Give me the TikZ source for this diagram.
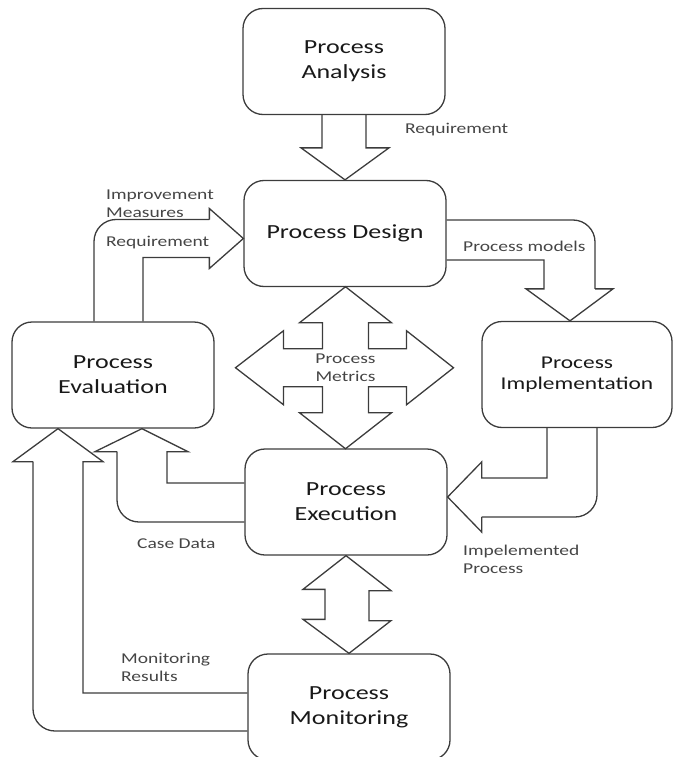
\documentclass[tikz,border=0pt]{standalone}
\usepackage{fontspec}
\setmainfont{Carlito}[FakeStretch=1.3]
\usetikzlibrary{calc}
\definecolor{linegray}{HTML}{3C3C3C}
\definecolor{txtgray}{HTML}{454545}

\begin{document}
\begin{tikzpicture}[x=1pt,y=-1pt,
  every node/.style={align=center},
  box/.style={draw=linegray,line width=1.3pt,rounded corners=20pt,minimum width=202pt,minimum height=106pt,inner sep=0pt,font=\fontsize{20}{25}\selectfont,text=black!90},
  blk/.style={draw=linegray,line width=1.3pt},
  bentarrow/.style={blk,rounded corners=22pt},
  lbl/.style={font=\fontsize{15}{18}\selectfont,text=txtgray,align=left,inner sep=0pt}]
\useasboundingbox (0,0) rectangle (674,757);
\node[box] (ana) at (344,61.5) {Process\\Analysis};
\node[box] (des) at (345,233.5) {Process Design};
\node[box] (eva) at (113,375) {Process\\Evaluation};
\node[box,minimum width=190pt,font=\fontsize{18}{21}\selectfont] (imp) at (577,374.5) {Process\\Implementation};
\node[box] (exe) at (346,502) {Process\\Execution};
\node[box] (mon) at (349,707) {Process\\Monitoring};
% analysis -> design
\draw[blk] ($(ana.south)+(-22,0)$) |- ($(des.north)+(-44,-32)$) -- (des.north) -- ($(des.north)+(44,-32)$) -| ($(ana.south)+(22,0)$);
% evaluation -> design
\coordinate (evtip) at ($(des.west)+(0,5)$);
\draw[bentarrow] ($(eva.north)+(-19,0)$) |- ($(evtip)+(-34,-19)$);
\draw[blk] ($(evtip)+(-34,-19)$) -- ++(0,-11) -- (evtip) -- ($(evtip)+(-34,30)$) -- ++(0,-11) -| ($(eva.north)+(30,0)$);
% design -> implementation
\coordinate (imtip) at ($(imp.north)+(-7,0)$);
\draw[bentarrow] ($(des.east)+(0,-13.5)$) -| ($(imtip)+(25,-32)$);
\draw[blk] ($(imtip)+(25,-32)$) -- ++(18,0) -- (imtip) -- ($(imtip)+(-44,-32)$) -- ++(18,0) |- ($(des.east)+(0,26.5)$);
% metrics, four ways
\coordinate (pm) at ($(des.south)!0.5!(exe.north)$);
\draw[blk,shift={(pm)}] (0,-81) -- (46,-45) -- (23,-45) -- (23,-19) -- (61,-19) -- (61,-37) -- (108,0) -- (61,37) -- (61,19) -- (23,19) -- (23,45) -- (46,45) -- (0,81) -- (-46,45) -- (-23,45) -- (-23,19) -- (-62,19) -- (-62,37) -- (-110,0) -- (-62,-37) -- (-62,-19) -- (-23,-19) -- (-23,-45) -- (-46,-45) -- cycle;
% execution -> evaluation
\coordinate (cdtip) at ($(eva.south)+(29,0)$);
\draw[bentarrow] ($(exe.west)+(0,20)$) -| ($(cdtip)+(-25,23)$);
\draw[blk] ($(cdtip)+(-25,23)$) -- ++(-22,0) -- (cdtip) -- ($(cdtip)+(46,23)$) -- ++(-21,0) |- ($(exe.west)+(0,-19)$);
% monitoring -> evaluation
\coordinate (mrtip) at ($(eva.south)+(-55,0)$);
\draw[bentarrow] ($(mon.west)+(0,24)$) -| ($(mrtip)+(-25,33)$);
\draw[blk] ($(mrtip)+(-25,33)$) -- ++(-20,0) -- (mrtip) -- ($(mrtip)+(45,33)$) -- ++(-20,0) |- ($(mon.west)+(0,-14)$);
% implementation -> execution
\coordinate (iptip) at ($(exe.east)+(0,-5)$);
\draw[bentarrow] ($(imp.south)+(20,0)$) |- ($(iptip)+(34,20)$);
\draw[blk] ($(iptip)+(34,20)$) -- ++(0,15) -- (iptip) -- ($(iptip)+(34,-35)$) -- ++(0,16) -| ($(imp.south)+(-30,0)$);
% execution <-> monitoring
\draw[blk] (exe.south) -- ++(45,35) -- ++(-22,0) -- ++(0,30) -- ++(22,0) -- (mon.north) -- ++(-46,-34) -- ++(22,0) -- ++(0,-30) -- ++(-22,0) -- cycle;
% labels
\node[lbl,anchor=west] (req1) at (405,130) {Requirement};
\node[lbl,anchor=west] (imprv) at (106,204) {Improvement\\Measures};
\node[lbl,anchor=west] (req2) at (106,243) {Requirement};
\node[lbl,anchor=west] (pmod) at (463,246) {Process models};
\node[font=\fontsize{15}{18}\selectfont,text=txtgray,inner sep=0pt] (metr) at (pm) {Process\\Metrics};
\node[lbl,anchor=west] (cdat) at (137,544) {Case Data};
\node[lbl,anchor=west] (mres) at (121,667) {Monitoring\\Results};
\node[lbl,anchor=west] (ipro) at (463,559) {Impelemented\\Process};
\end{tikzpicture}
\end{document}
